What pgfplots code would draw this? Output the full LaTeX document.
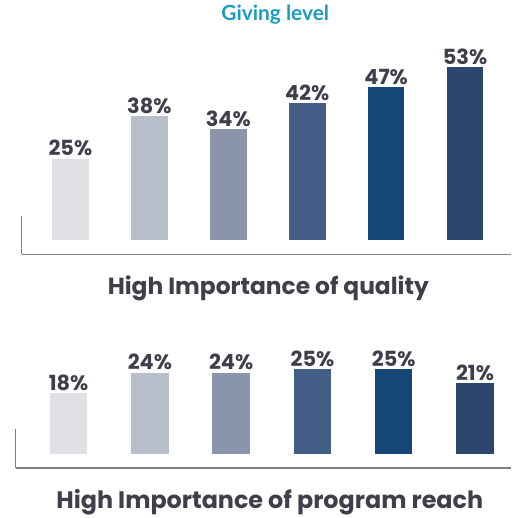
\documentclass[border=0pt]{standalone}
\usepackage{pgfplots}
\pgfplotsset{compat=1.18}
\usepackage{fontspec}
\setmainfont{Poppins}[BoldFont={* Bold}]
\newfontfamily\latofont{Lato}
\definecolor{cA}{HTML}{E0E1E5}
\definecolor{cB}{HTML}{B8BFCB}
\definecolor{cC}{HTML}{8A94AA}
\definecolor{cD}{HTML}{435F88}
\definecolor{cE}{HTML}{154675}
\definecolor{cF}{HTML}{2C476D}
\definecolor{lab}{HTML}{3D3F4A}
\definecolor{axg}{HTML}{7F8088}
\definecolor{teal}{HTML}{1B9CC4}
\pgfplotstableread{
x y
0 25
1 38
2 34
3 42
4 47
5 53
}\quality
\pgfplotstableread{
x y
0 18
1 24
2 24
3 25
4 25
5 21
}\reach
\pgfplotsset{
  barstyle/.style={
    scale only axis, clip=false,
    ybar, bar shift=0pt,
    axis x line=bottom, axis y line=none,
    x axis line style={axg, line width=1.2pt, -},
    xtick=\empty, ytick=\empty,
    /pgf/number format/assume math mode=true,
    nodes near coords={\pgfmathprintnumber{\pgfplotspointmeta}\%},
    every node near coord/.append style={font=\bfseries\fontsize{21}{24}\selectfont, text=lab, yshift=-1pt},
  }
}
\begin{document}
\begin{tikzpicture}
\path (0,0) rectangle (514pt,-518pt);
% top panel
\begin{axis}[barstyle, at={(22pt,-255.7pt)}, anchor=south west,
  width=492pt, height=195.7pt, xmin=-0.615, xmax=5.58, ymin=-4.27, ymax=55.4,
  bar width=37pt]
\addplot[fill=cA, draw=none] table[x=x,y=y, restrict x to domain=0:0] {\quality};
\addplot[fill=cB, draw=none] table[x=x,y=y, restrict x to domain=1:1] {\quality};
\addplot[fill=cC, draw=none] table[x=x,y=y, restrict x to domain=2:2] {\quality};
\addplot[fill=cD, draw=none] table[x=x,y=y, restrict x to domain=3:3] {\quality};
\addplot[fill=cE, draw=none] table[x=x,y=y, restrict x to domain=4:4] {\quality};
\addplot[fill=cF, draw=none] table[x=x,y=y, restrict x to domain=5:5] {\quality};
\draw[axg, line width=1.2pt] (rel axis cs:0,0) -- ++(0pt,38pt);
\end{axis}
% bottom panel
\begin{axis}[barstyle, at={(16pt,-471pt)}, anchor=south west,
  width=498pt, height=131pt, xmin=-0.648, xmax=5.44, ymin=-4.2, ymax=34.3,
  bar width=37.7pt]
\addplot[fill=cA, draw=none] table[x=x,y=y, restrict x to domain=0:0] {\reach};
\addplot[fill=cB, draw=none] table[x=x,y=y, restrict x to domain=1:1] {\reach};
\addplot[fill=cC, draw=none] table[x=x,y=y, restrict x to domain=2:2] {\reach};
\addplot[fill=cD, draw=none] table[x=x,y=y, restrict x to domain=3:3] {\reach};
\addplot[fill=cE, draw=none] table[x=x,y=y, restrict x to domain=4:4] {\reach};
\addplot[fill=cF, draw=none] table[x=x,y=y, restrict x to domain=5:5] {\reach};
\draw[axg, line width=1.2pt] (rel axis cs:0,0) -- ++(0pt,39pt);
\end{axis}
\node[text=teal, font=\latofont\bfseries\fontsize{21}{24}\selectfont] at (277pt,-15pt) {Giving level};
\node[text=lab, font=\bfseries\fontsize{23.5}{27}\selectfont] at (270pt,-290.5pt) {High Importance of quality};
\node[text=lab, font=\bfseries\fontsize{24}{28}\selectfont] at (271.5pt,-505pt) {High Importance of program reach};
\end{tikzpicture}
\end{document}
